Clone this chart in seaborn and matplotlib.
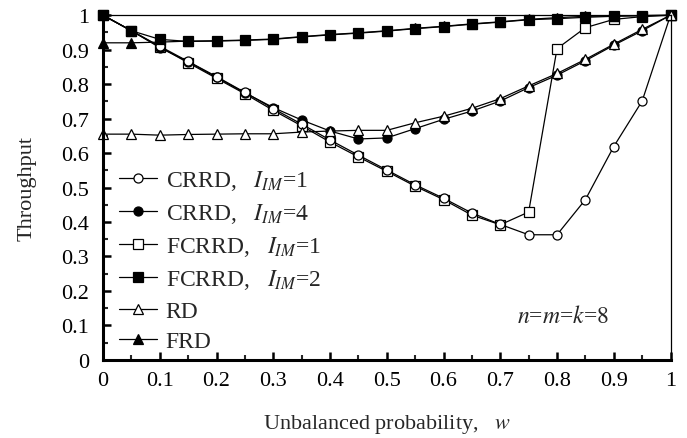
import numpy as np
import pandas as pd
import seaborn as sns
import matplotlib
matplotlib.use("Agg")
import matplotlib.pyplot as plt
from matplotlib.ticker import MultipleLocator, FuncFormatter

# Unbalanced probability w and throughput of each scheme
w = [0.0, 0.05, 0.1, 0.15, 0.2, 0.25, 0.3, 0.35, 0.4, 0.45, 0.5,
     0.55, 0.6, 0.65, 0.7, 0.75, 0.8, 0.85, 0.9, 0.95, 1.0]

crrd_im1 = [1.0, 0.955, 0.91, 0.866, 0.822, 0.776, 0.729, 0.684, 0.638, 0.594, 0.551,
            0.508, 0.469, 0.426, 0.393, 0.363, 0.363, 0.465, 0.619, 0.751, 1.0]
crrd_im4 = [1.0, 0.955, 0.906, 0.865, 0.82, 0.775, 0.732, 0.696, 0.664, 0.641, 0.644,
            0.671, 0.698, 0.722, 0.751, 0.79, 0.826, 0.868, 0.913, 0.955, 1.0]
fcrrd_im1 = [1.0, 0.955, 0.908, 0.862, 0.817, 0.772, 0.724, 0.679, 0.632, 0.589, 0.547,
             0.504, 0.465, 0.42, 0.392, 0.429, 0.903, 0.964, 0.988, 0.996, 1.0]
fcrrd_im2 = [1.0, 0.955, 0.930, 0.924, 0.925, 0.927, 0.930, 0.937, 0.943, 0.948, 0.954,
             0.961, 0.967, 0.974, 0.980, 0.987, 0.990, 0.994, 0.997, 0.999, 1.0]
rd = [0.655, 0.655, 0.652, 0.654, 0.655, 0.656, 0.656, 0.661, 0.664, 0.666, 0.666,
      0.688, 0.707, 0.73, 0.758, 0.795, 0.831, 0.872, 0.916, 0.959, 1.0]
frd = [0.92, 0.92, 0.922, 0.925, 0.926, 0.928, 0.931, 0.938, 0.944, 0.949, 0.955,
       0.962, 0.968, 0.975, 0.981, 0.988, 0.993, 0.997, 0.998, 0.999, 1.0]

labels = [r"CRRD,   $I_{IM}$=1", r"CRRD,   $I_{IM}$=4", r"FCRRD,   $I_{IM}$=1",
          r"FCRRD,   $I_{IM}$=2", "RD", "FRD"]
series = [crrd_im1, crrd_im4, fcrrd_im1, fcrrd_im2, rd, frd]
markers = ["o", "o", "s", "s", "^", "^"]
faces = ["white", "black", "white", "black", "white", "black"]
sizes = [6.5, 6.5, 6.5, 6.5, 7, 7]
zorders = [3.0, 2.8, 2.6, 3.1, 3.3, 2.9]

FS = 16

sns.set_style("ticks")
plt.rcParams["font.family"] = ["Liberation Serif", "DejaVu Serif"]
plt.rcParams["mathtext.fontset"] = "stix"

fig = plt.figure(figsize=(6.87, 4.39), dpi=100)
ax = fig.add_axes([0.150, 0.178, 0.826, 0.785])

for lab, vals, mk, fc, ms, zo in zip(labels, series, markers, faces, sizes, zorders):
    df = pd.DataFrame({"w": w, "throughput": vals})
    sns.lineplot(data=df, x="w", y="throughput", ax=ax, color="black", lw=0.9,
                 marker=mk, markersize=ms, markerfacecolor=fc,
                 markeredgecolor="black", markeredgewidth=0.9,
                 label=lab, zorder=zo, clip_on=False)

ax.set_xlim(0, 1)
ax.set_ylim(0, 1)
ax.xaxis.set_major_locator(MultipleLocator(0.1))
ax.xaxis.set_minor_locator(MultipleLocator(0.05))
ax.yaxis.set_major_locator(MultipleLocator(0.1))
ax.yaxis.set_minor_locator(MultipleLocator(0.05))
fmt = FuncFormatter(lambda v, p: f"{round(v, 2):g}")
ax.xaxis.set_major_formatter(fmt)
ax.yaxis.set_major_formatter(fmt)

ax.tick_params(which="major", direction="in", length=6, width=1.8,
               labelsize=FS, colors="black", pad=10)
ax.tick_params(which="minor", direction="in", length=3.5, width=1.5)
ax.tick_params(axis="x", which="major", pad=8)
ax.tick_params(top=False, right=False, which="both")

for side in ("left", "bottom"):
    ax.spines[side].set_linewidth(2.2)
for side in ("top", "right"):
    ax.spines[side].set_linewidth(0.9)
for sp in ax.spines.values():
    sp.set_color("black")
    sp.set_zorder(5)

ax.set_ylabel("Throughput", fontsize=FS, labelpad=18)
ax.set_xlabel(r"Unbalanced probability,   $w$", fontsize=FS, labelpad=16)

ax.text(0.81, 0.128, r"$n$=$m$=$k$=$8$", fontsize=17, ha="center", va="center",
        transform=ax.transAxes)

leg = ax.legend(loc="lower left", bbox_to_anchor=(0.028, 0.022), frameon=False,
                fontsize=17, handlelength=1.6, handletextpad=0.38,
                labelspacing=0.38, borderpad=0, borderaxespad=0)

fig.savefig("out.png", dpi=100)
